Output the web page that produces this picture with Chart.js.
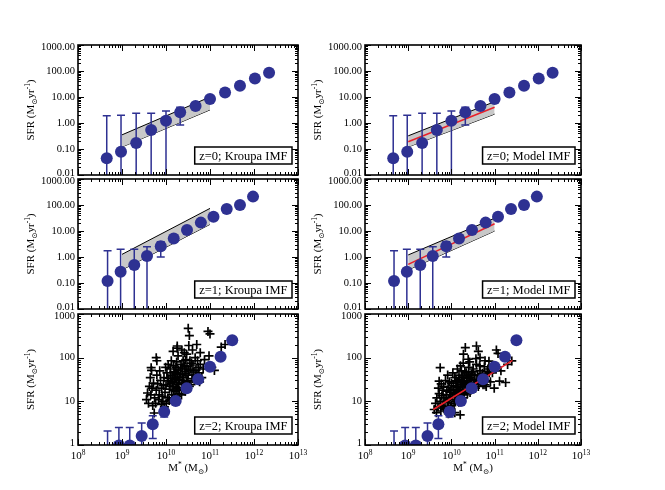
<!DOCTYPE html>
<html>
<head>
<meta charset="utf-8">
<script src="https://cdn.jsdelivr.net/npm/chart.js@4.4.0/dist/chart.umd.min.js"></script>
<style>
  body { margin: 0; background: #fff; }
  #wrap { position: relative; width: 665px; height: 490px; }
  #wrap canvas { position: absolute; left: 0; top: 0; }
</style>
</head>
<body>
<div id="wrap"></div>
<script>
// Binned SFR vs stellar mass, z=0 / z=1 / z=2
const massZ0 = [4.5e8, 9.5e8, 2.1e9, 4.6e9, 1.0e10, 2.1e10, 4.7e10, 1.0e11, 2.2e11, 4.8e11, 1.05e12, 2.2e12];
const sfrZ0 = [0.044, 0.079, 0.17, 0.54, 1.23, 2.6, 4.5, 8.4, 15, 27, 52, 85];
const errHiZ0 = [1.9, 2.0, 2.35, 2.35, 2.9, 4.0, null, null, null, null, null, null];
const errLoZ0 = [1e-4, 1e-4, 1e-4, 1e-4, 1e-4, 0.83, null, null, null, null, null, null];

const massZ1 = [4.7e8, 9.3e8, 1.9e9, 3.7e9, 7.6e9, 1.5e10, 3.0e10, 6.2e10, 1.2e11, 2.4e11, 4.8e11, 9.5e11];
const sfrZ1 = [0.12, 0.27, 0.49, 1.1, 2.6, 5.2, 11, 21, 35, 70, 100, 210];
const errHiZ1 = [1.75, 2.0, 2.0, 2.5, 3.9, null, null, null, null, null, null, null];
const errLoZ1 = [1e-4, 1e-4, 1e-4, 1e-4, 1.0, null, null, null, null, null, null, null];

const massZ2 = [4.7e8, 8.5e8, 1.5e9, 2.8e9, 5.0e9, 9.1e9, 1.66e10, 2.95e10, 5.4e10, 1.0e11, 1.74e11, 3.2e11];
const sfrZ2 = [0.5, 0.97, 0.97, 1.6, 3.0, 5.8, 10.2, 20, 32, 62, 105, 250];
const errHiZ2 = [2.1, 2.5, 2.5, 3.2, 4.7, 6.9, null, null, null, null, null, null];
const errLoZ2 = [0.01, 0.01, 0.01, 0.01, 1.4, 4.4, null, null, null, null, null, null];

// fit bands: mass ends, upper and lower edges
const bandMass = [1e9, 1e11];
const bandHiZ0K = [0.35, 10];
const bandLoZ0K = [0.12, 3.2];
const bandHiZ0M = [0.32, 6.6];
const bandLoZ0M = [0.12, 2.2];
const fitZ0M = [0.19, 4.0];
const bandHiZ1K = [1.26, 74];
const bandLoZ1K = [0.32, 18];
const bandHiZ1M = [1.2, 31];
const bandLoZ1M = [0.32, 10];
const fitZ1M = [0.52, 19];
const fitMassZ2 = [3.8e9, 2.6e11];
const fitZ2M = [6.5, 87];

// individual galaxies at z=2, [mass, sfr]
const galaxiesKroupa = [
  [5.5e9,12],[6e9,18],[6.5e9,25],[7e9,14],[7.5e9,30],[8e9,20],[8.5e9,10],[9e9,35],[9.5e9,16],[1.0e10,24],
  [1.05e10,45],[1.1e10,12],[1.15e10,30],[1.2e10,19],[1.25e10,55],[1.3e10,26],[1.35e10,14],[1.4e10,38],[1.45e10,22],[1.5e10,65],
  [1.55e10,31],[1.6e10,17],[1.65e10,45],[1.7e10,27],[1.75e10,80],[1.8e10,36],[1.85e10,21],[1.9e10,52],[1.95e10,30],[2.0e10,15],
  [2.1e10,42],[2.2e10,70],[2.3e10,25],[2.4e10,58],[2.5e10,35],[2.6e10,19],[2.7e10,48],[2.8e10,90],[2.9e10,28],[3.0e10,62],
  [3.2e10,40],[3.4e10,22],[3.6e10,55],[3.8e10,75],[4.0e10,33],[4.3e10,47],[4.6e10,100],[5.0e10,38],[5.4e10,60],[5.8e10,28],
  [4.0e9,9],[4.5e9,14],[4.8e9,20],[5.0e9,8],[5.2e9,26],[5.8e9,9],[6.2e9,40],[6.8e9,11],[7.2e9,50],[7.8e9,8.5],
  [8.2e9,13],[8.8e9,23],[9.2e9,7.5],[9.8e9,60],[1.02e10,9],[1.08e10,34],[1.12e10,70],[1.18e10,10.5],[1.22e10,22],[1.28e10,40],
  [1.32e10,85],[1.38e10,11],[1.42e10,28],[1.48e10,18],[1.52e10,48],[1.58e10,12],[1.62e10,34],[1.68e10,60],[1.72e10,20],[1.78e10,13],
  [1.82e10,42],[1.88e10,110],[1.92e10,24],[1.98e10,18],[2.05e10,32],[2.15e10,55],[2.25e10,14],[2.35e10,38],[2.45e10,85],[2.55e10,26],
  [2.65e10,65],[2.75e10,17],[2.85e10,44],[2.95e10,120],[3.1e10,30],[3.3e10,52],[3.5e10,85],[3.7e10,24],[3.9e10,40],[4.1e10,68],
  [4.4e10,30],[4.8e10,52],[5.2e10,85],[5.6e10,45],[6.0e10,70],[6.5e10,35],[7e10,55],
  [3.2e10,470],[3.4e10,320],[9e10,400],[1.0e11,350],[1.8e10,185],[1.8e10,165],[3.3e10,190],[5.0e10,200],[6.0e10,130],[9.5e10,110],
  [1.26e11,51],[1.8e11,175],[2.2e11,200],[4.6e9,59],[4.7e9,51],[6.0e9,100],[6.2e9,85],[3.8e9,15.5],[3.6e9,11],[5.4e9,5.4],
  [4.2e9,22],[1.45e10,140],[2.3e10,150],[4e10,150],[2.6e10,130],[7.5e10,90],[1.1e11,60],[4.4e9,35]
];
const galaxiesModel = [
  [4.0e9,6.5],[4.3e9,9],[4.6e9,12],[4.9e9,7.5],[5.2e9,15],[5.5e9,10],[5.8e9,25],[6.1e9,8],[6.4e9,18],[6.7e9,12],
  [7.0e9,6.5],[7.3e9,30],[7.6e9,14],[8.0e9,9.5],[8.4e9,21],[8.8e9,11],[9.2e9,16],[9.6e9,7],[1.0e10,26],[1.05e10,13],
  [1.1e10,19],[1.15e10,9],[1.2e10,35],[1.25e10,15],[1.3e10,22],[1.35e10,11],[1.4e10,28],[1.45e10,17],[1.5e10,40],[1.55e10,13],
  [1.6e10,24],[1.65e10,19],[1.7e10,50],[1.75e10,15],[1.8e10,30],[1.85e10,22],[1.9e10,12],[1.95e10,36],[2.0e10,26],[2.1e10,18],
  [2.2e10,45],[2.3e10,30],[2.4e10,21],[2.5e10,60],[2.6e10,34],[2.7e10,16],[2.8e10,26],[2.9e10,42],[3.0e10,22],[3.2e10,55],
  [3.4e10,32],[3.6e10,20],[3.8e10,70],[4.0e10,40],[4.3e10,28],[4.6e10,50],[5.0e10,36],[5.4e10,24],[5.8e10,62],[6.2e10,40],
  [6.6e10,30],[7.0e10,55],[7.5e10,45],[8.0e10,28],
  [4.5e9,5.5],[5.0e9,20],[5.7e9,6],[6.0e9,13.5],[6.6e9,22],[7.1e9,10],[7.8e9,17],[8.2e9,40],[8.6e9,7.5],[9.0e9,28],
  [9.4e9,12.5],[9.8e9,18],[1.02e10,8],[1.08e10,45],[1.12e10,23],[1.18e10,14],[1.22e10,10],[1.28e10,30],[1.32e10,18],[1.38e10,55],
  [1.42e10,21],[1.48e10,9.5],[1.52e10,32],[1.58e10,16],[1.62e10,65],[1.68e10,27],[1.72e10,11],[1.78e10,38],[1.82e10,18],[1.88e10,75],
  [1.92e10,28],[1.98e10,14],[2.05e10,48],[2.15e10,24],[2.25e10,34],[2.35e10,15],[2.45e10,40],[2.55e10,27],[2.65e10,80],[2.75e10,36],
  [2.85e10,19],[2.95e10,30],[3.1e10,48],[3.3e10,25],[3.5e10,40],[3.7e10,95],[3.9e10,30],[4.2e10,22],[4.5e10,65],[4.8e10,27],
  [5.2e10,44],[5.6e10,32],[6.0e10,85],[6.4e10,22],[6.8e10,48],
  [3.8e10,185],[4.2e10,140],[4.6e10,100],[1.1e11,150],[1.2e11,125],[1.3e11,29],[1.8e11,27],[7.4e10,83],[8.9e10,45],[6.0e10,24],
  [2.1e10,170],[1.9e10,120],[2.45e10,92],[9.8e10,20],[2.5e11,84],[1.6e10,4.9],[5.5e9,59],[5.2e9,29],[6.6e9,6.9],[1.0e11,60],
  [2.0e11,70],[1.4e11,50],[8.5e9,5.2],[1.2e10,5.5]
];

const SERIF = '"Liberation Serif", "DejaVu Serif", serif';
const BLUE = '#2e3192';

const panels = [
  {left: 78, right: 298, top: 45, bottom: 175, yMin: 0.01, yMax: 1000, label: 'z=0; Kroupa IMF',
   mass: massZ0, sfr: sfrZ0, hi: errHiZ0, lo: errLoZ0, bandHi: bandHiZ0K, bandLo: bandLoZ0K},
  {left: 365, right: 581, top: 45, bottom: 175, yMin: 0.01, yMax: 1000, label: 'z=0; Model IMF',
   mass: massZ0, sfr: sfrZ0, hi: errHiZ0, lo: errLoZ0, bandHi: bandHiZ0M, bandLo: bandLoZ0M, fit: fitZ0M, fitMass: bandMass},
  {left: 78, right: 298, top: 179, bottom: 309, yMin: 0.01, yMax: 1000, label: 'z=1; Kroupa IMF',
   mass: massZ1, sfr: sfrZ1, hi: errHiZ1, lo: errLoZ1, bandHi: bandHiZ1K, bandLo: bandLoZ1K},
  {left: 365, right: 581, top: 179, bottom: 309, yMin: 0.01, yMax: 1000, label: 'z=1; Model IMF',
   mass: massZ1, sfr: sfrZ1, hi: errHiZ1, lo: errLoZ1, bandHi: bandHiZ1M, bandLo: bandLoZ1M, fit: fitZ1M, fitMass: bandMass},
  {left: 78, right: 298, top: 314, bottom: 445, yMin: 1, yMax: 1000, label: 'z=2; Kroupa IMF', xLabels: true,
   mass: massZ2, sfr: sfrZ2, hi: errHiZ2, lo: errLoZ2, galaxies: galaxiesKroupa},
  {left: 365, right: 581, top: 314, bottom: 445, yMin: 1, yMax: 1000, label: 'z=2; Model IMF', xLabels: true,
   mass: massZ2, sfr: sfrZ2, hi: errHiZ2, lo: errLoZ2, galaxies: galaxiesModel, fit: fitZ2M, fitMass: fitMassZ2}
];

function toPoints(xs, ys) {
  return xs.map((x, i) => ({x: x, y: ys[i]}));
}

// draw text pieces with sub/superscripts, centred on (0,0)
function richText(ctx, pieces, size) {
  const widths = pieces.map(p => {
    ctx.font = (p.s ? size * 0.68 : size) + 'px ' + SERIF;
    return ctx.measureText(p.t).width;
  });
  let x = -widths.reduce((a, b) => a + b, 0) / 2;
  pieces.forEach((p, i) => {
    ctx.font = (p.s ? size * 0.68 : size) + 'px ' + SERIF;
    const dy = p.s === 1 ? -size * 0.38 : (p.s === -1 ? size * 0.3 : 0);
    ctx.fillText(p.t, x, dy);
    x += widths[i];
  });
}

function makeDecor(p) {
  return {
    id: 'decor',
    beforeDatasetDraw(chart, args) {
      const ds = chart.data.datasets[args.index];
      if (!ds.isBins) return;
      const ctx = chart.ctx;
      const area = chart.chartArea;
      const xs = chart.scales.x, ys = chart.scales.y;
      ctx.save();
      ctx.beginPath();
      ctx.rect(area.left, area.top, area.right - area.left, area.bottom - area.top);
      ctx.clip();
      ctx.strokeStyle = BLUE;
      ctx.lineWidth = 1.5;
      p.mass.forEach((m, i) => {
        if (p.hi[i] == null) return;
        const x = xs.getPixelForValue(m);
        const yh = ys.getPixelForValue(p.hi[i]);
        const yl = ys.getPixelForValue(p.lo[i]);
        ctx.beginPath();
        ctx.moveTo(x, yh); ctx.lineTo(x, yl);
        ctx.moveTo(x - 4, yh); ctx.lineTo(x + 4, yh);
        ctx.moveTo(x - 4, yl); ctx.lineTo(x + 4, yl);
        ctx.stroke();
      });
      ctx.restore();
    },
    afterDraw(chart) {
      const ctx = chart.ctx;
      const a = chart.chartArea;
      const xs = chart.scales.x, ys = chart.scales.y;
      ctx.save();
      ctx.strokeStyle = '#000';
      ctx.fillStyle = '#000';

      // ticks on all four sides, pointing in
      ctx.lineWidth = 1;
      ctx.beginPath();
      for (let e = 8; e <= 13; e++) {
        for (let k = 1; k <= 9; k++) {
          const v = k * Math.pow(10, e);
          if (v > 1e13 * 1.001) break;
          const x = Math.round(xs.getPixelForValue(v)) + 0.5;
          const len = k === 1 ? 6 : 3;
          ctx.moveTo(x, a.bottom); ctx.lineTo(x, a.bottom - len);
          ctx.moveTo(x, a.top); ctx.lineTo(x, a.top + len);
        }
      }
      const e0 = Math.round(Math.log10(p.yMin)), e1 = Math.round(Math.log10(p.yMax));
      for (let e = e0; e <= e1; e++) {
        for (let k = 1; k <= 9; k++) {
          const v = k * Math.pow(10, e);
          if (v > p.yMax * 1.001) break;
          const y = Math.round(ys.getPixelForValue(v)) + 0.5;
          const len = k === 1 ? 6 : 3;
          ctx.moveTo(a.left, y); ctx.lineTo(a.left + len, y);
          ctx.moveTo(a.right, y); ctx.lineTo(a.right - len, y);
        }
      }
      ctx.stroke();

      // frame
      ctx.lineWidth = 1.6;
      ctx.strokeRect(a.left, a.top, a.right - a.left, a.bottom - a.top);

      // y tick labels
      ctx.font = '10.5px ' + SERIF;
      ctx.textAlign = 'right';
      ctx.textBaseline = 'middle';
      for (let e = e0; e <= e1; e++) {
        const v = Math.pow(10, e);
        let y = ys.getPixelForValue(v);
        if (e === e0) y -= 2;
        if (e === e1) y += 2;
        const txt = p.yMin < 1 ? v.toFixed(2) : String(Math.round(v));
        ctx.fillText(txt, a.left - 3, y);
      }

      // x tick labels and title on the bottom row
      if (p.xLabels) {
        ctx.textAlign = 'left';
        ctx.textBaseline = 'alphabetic';
        for (let e = 8; e <= 13; e++) {
          const x = xs.getPixelForValue(Math.pow(10, e));
          ctx.save();
          ctx.translate(x, 459);
          richText(ctx, [{t: '10', s: 0}, {t: String(e), s: 1}], 11);
          ctx.restore();
        }
        ctx.save();
        ctx.translate((a.left + a.right) / 2, 471);
        richText(ctx, [{t: 'M', s: 0}, {t: '*', s: 1}, {t: ' (M', s: 0}, {t: '\u2299', s: -1}, {t: ')', s: 0}], 11);
        ctx.restore();
      }

      // y title
      ctx.save();
      ctx.textAlign = 'left';
      ctx.textBaseline = 'alphabetic';
      ctx.translate(a.left - 44, (a.top + a.bottom) / 2);
      ctx.rotate(-Math.PI / 2);
      richText(ctx, [{t: 'SFR (M', s: 0}, {t: '\u2299', s: -1}, {t: 'yr', s: 0}, {t: '-1', s: 1}, {t: ')', s: 0}], 11);
      ctx.restore();

      // panel label box
      ctx.font = '12.5px ' + SERIF;
      const w = ctx.measureText(p.label).width + 9;
      const h = 17;
      const bx = a.right - 6 - w, by = a.bottom - 11 - h;
      ctx.fillStyle = '#fff';
      ctx.fillRect(bx, by, w, h);
      ctx.lineWidth = 1.5;
      ctx.strokeRect(bx, by, w, h);
      ctx.fillStyle = '#000';
      ctx.textAlign = 'left';
      ctx.textBaseline = 'middle';
      ctx.fillText(p.label, bx + 4.5, by + h / 2 + 1);
      ctx.restore();
    }
  };
}

const wrap = document.getElementById('wrap');
panels.forEach(p => {
  const canvas = document.createElement('canvas');
  canvas.width = 665;
  canvas.height = 490;
  wrap.appendChild(canvas);

  const datasets = [];
  datasets.push({
    isBins: true,
    data: toPoints(p.mass, p.sfr),
    showLine: false,
    pointRadius: 6,
    pointBackgroundColor: BLUE,
    pointBorderColor: BLUE,
    pointBorderWidth: 0,
    order: 0
  });
  if (p.fit) {
    datasets.push({
      data: toPoints(p.fitMass, p.fit),
      borderColor: '#e8202a',
      borderWidth: 1.6,
      pointRadius: 0,
      order: 1
    });
  }
  if (p.galaxies) {
    datasets.push({
      data: p.galaxies.map(g => ({x: g[0], y: g[1]})),
      showLine: false,
      pointStyle: 'cross',
      pointRadius: 4.5,
      pointBorderColor: '#000',
      pointBorderWidth: 1.7,
      order: 2
    });
  }
  if (p.bandHi) {
    datasets.push({
      data: toPoints(bandMass, p.bandHi),
      borderColor: '#000',
      borderWidth: 1,
      pointRadius: 0,
      backgroundColor: '#c8c8c8',
      fill: '+1',
      order: 3
    });
    datasets.push({
      data: toPoints(bandMass, p.bandLo),
      borderColor: '#000',
      borderWidth: 1,
      pointRadius: 0,
      fill: false,
      order: 3
    });
  }

  new Chart(canvas, {
    type: 'line',
    data: { datasets: datasets },
    options: {
      responsive: false,
      animation: false,
      devicePixelRatio: 1,
      layout: { padding: { left: p.left, right: 665 - p.right, top: p.top, bottom: 490 - p.bottom } },
      plugins: { legend: { display: false }, tooltip: { enabled: false } },
      scales: {
        x: { type: 'logarithmic', min: 1e8, max: 1e13, display: false },
        y: { type: 'logarithmic', min: p.yMin, max: p.yMax, display: false }
      }
    },
    plugins: [makeDecor(p)]
  });
});
</script>
</body>
</html>
